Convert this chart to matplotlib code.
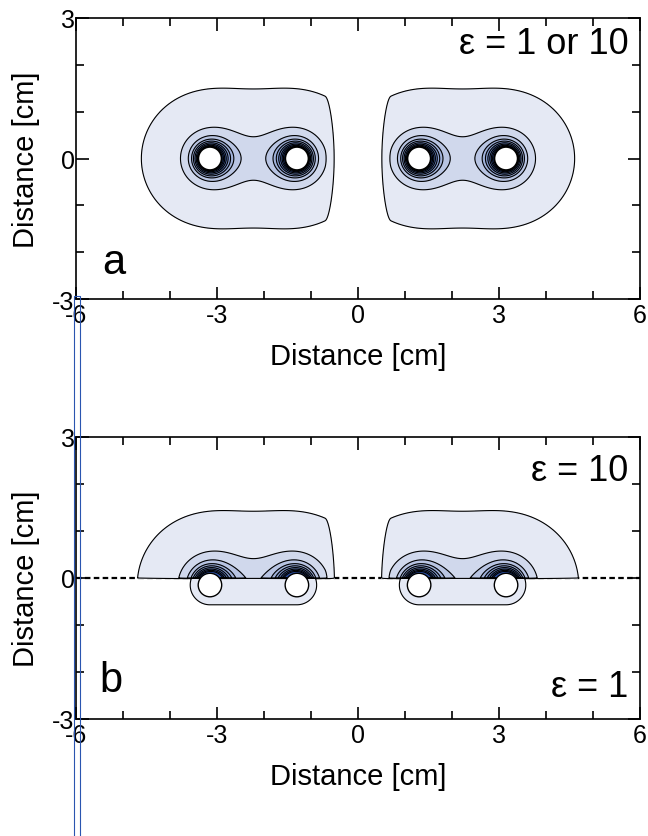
import numpy as np
import matplotlib.pyplot as plt
from matplotlib.patches import Circle, Rectangle
from matplotlib.ticker import MultipleLocator

plt.rcParams['font.family'] = ['Liberation Sans', 'DejaVu Sans']
plt.rcParams['axes.unicode_minus'] = False

# one electrode pair of the left sensor [cm]; the right sensor is its mirror
pair_x = [-3.15, -1.3]
pair_sign = [1, -1]
electrode_r = 0.25
electrode_y_a = 0.0
electrode_y_b = -0.15
rod_half_len = 1.0
domain_cut = 0.38          # each sensor was solved for |x| > domain_cut
cut_soft = 0.32

# panel b: field above (eps = 10) / below (eps = 1) the interface
scale_upper = 1.12
lower_strength = 0.126
lower_cap = 1.0

levels = [0.30, 1.2, 1.8, 2.2, 2.5, 2.8, 3.1, 3.4, 3.7, 50.0]
fill_colors = ["#e5e9f4", "#d0d8ec", "#b8c4e2", "#a0b1d9", "#879dcf",
               "#6d88c4", "#5473b9", "#3d5fae", "#2a4ea3"]

x_ticks = [-6, -3, 0, 3, 6]
y_ticks = [-3, 0, 3]


def pair_field(X, Y, y0):
    # left sensor field, mirrored onto x > 0
    Xl = -np.abs(X)
    ex = np.zeros_like(X)
    ey = np.zeros_like(X)
    for xk, s in zip(pair_x, pair_sign):
        dx = Xl - xk
        dy = Y - y0
        r = np.maximum(np.hypot(dx, dy), electrode_r)
        f = s / (r**2 * np.sqrt(r**2 + rod_half_len**2))
        ex += f * dx
        ey += f * dy
    t = np.clip((np.abs(X) - domain_cut) / cut_soft, 0, 1)
    return np.hypot(ex, ey) * t * t * (3 - 2 * t)


def lower_field(X, Y, y0):
    # weak field in the eps = 1 half, hugging the electrode pair
    Xl = -np.abs(X)
    xc = np.clip(Xl, min(pair_x), max(pair_x))
    d = np.maximum(np.hypot(Xl - xc, Y - y0), 0.05)
    return np.minimum(lower_strength / d, lower_cap)


def style_axes(ax):
    ax.set_xlim(-6, 6)
    ax.set_ylim(-3, 3)
    ax.set_xticks(x_ticks)
    ax.set_yticks(y_ticks)
    ax.xaxis.set_minor_locator(MultipleLocator(1))
    ax.yaxis.set_minor_locator(MultipleLocator(1))
    ax.tick_params(which="both", direction="in", top=True, right=True,
                   width=1.2, labelsize=18)
    ax.tick_params(which="major", length=9)
    ax.tick_params(which="minor", length=5.5)
    ax.tick_params(axis="y", pad=1)
    ax.tick_params(axis="x", pad=3)
    for sp in ax.spines.values():
        sp.set_linewidth(1.2)
    ax.set_xlabel("Distance [cm]", fontsize=21, labelpad=11)
    ax.set_ylabel("Distance [cm]", fontsize=21, labelpad=9)


xs = np.linspace(-6, 6, 901)
ys = np.linspace(-3, 3, 451)
X, Y = np.meshgrid(xs, ys)

fig = plt.figure(figsize=(6.48, 8.37), dpi=100)
ax_a = fig.add_axes([76 / 648, 1 - 300 / 837, 564 / 648, 281 / 837])
ax_b = fig.add_axes([76 / 648, 1 - 720 / 837, 564 / 648, 282 / 837])

# panel a: homogeneous medium
Fa = pair_field(X, Y, electrode_y_a)
ax_a.contourf(X, Y, Fa, levels=levels, colors=fill_colors)
ax_a.contour(X, Y, Fa, levels=levels[:-1], colors="black", linewidths=0.8)
for xk in pair_x:
    for sx in (1, -1):
        ax_a.add_patch(Circle((sx * xk, electrode_y_a), electrode_r, fc="white",
                              ec="black", lw=1.5, zorder=3))
ax_a.text(5.75, 2.45, "ε = 1 or 10", ha="right", va="center", fontsize=26)
ax_a.text(-5.45, -2.45, "a", ha="left", va="baseline", fontsize=30)
style_axes(ax_a)

# panel b: dielectric interface at y = 0
F_up = scale_upper * pair_field(X, Y, electrode_y_b)
F_low = lower_field(X, Y, electrode_y_b)
Fb = np.where(Y >= 0, F_up, F_low)
ax_b.axhline(0, color="black", ls=(0, (2.5, 1.5)), lw=1.6, zorder=0.5)
ax_b.contourf(X, Y, Fb, levels=levels, colors=fill_colors, zorder=1)
ax_b.contour(X, Y, Fb, levels=levels[:-1], colors="black", linewidths=0.8,
             zorder=2)
for xk in pair_x:
    for sx in (1, -1):
        ax_b.add_patch(Circle((sx * xk, electrode_y_b), electrode_r, fc="white",
                              ec="black", lw=1.0, zorder=3))
ax_b.text(5.75, 2.28, "ε = 10", ha="right", va="center", fontsize=26)
ax_b.text(5.75, -2.3, "ε = 1", ha="right", va="center", fontsize=26)
ax_b.text(-5.5, -2.4, "b", ha="left", va="baseline", fontsize=30)
style_axes(ax_b)

# stray frame lines seen on the left of the original page
fig.add_artist(Rectangle((74 / 648, -0.01), 6 / 648, 0.01 + 1 - 297 / 837,
                         transform=fig.transFigure, fill=False,
                         ec="#2a55b0", lw=0.8))

fig.savefig("out.png", dpi=100)
